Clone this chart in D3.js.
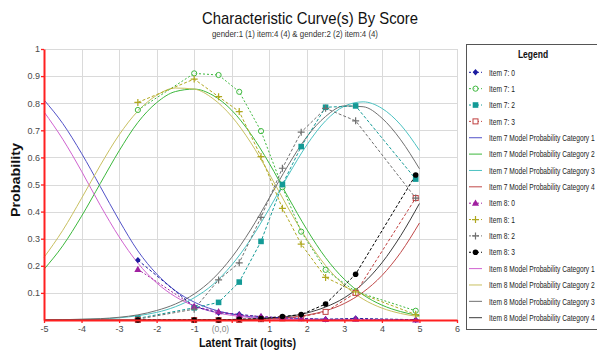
<!DOCTYPE html>
<html>
<head>
<meta charset="utf-8">
<script src="https://cdn.jsdelivr.net/npm/d3@7"></script>
<style>
	body{margin:0;background:#fff;}
	text{font-family:"Liberation Sans",Arial,sans-serif;}
</style>
</head>
<body>
<div id="chart"></div>
<script>
var xTicks=[-5,-4,-3,-2,-1,0,1,2,3,4,5,6];
var yTicks=[0.1,0.2,0.3,0.4,0.5,0.6,0.7,0.8,0.9,1];

//model curves, read every half logit
var modelX=[-5,-4.5,-4,-3.5,-3,-2.5,-2,-1.5,-1,-0.5,0,0.5,1,1.5,2,2.5,3,3.5,4,4.5,5];
var item7Cat1=[0.812,0.725,0.615,0.492,0.368,0.255,0.170,0.108,0.066,0.039,0.022,0.012,0.006,0.003,0.001,0.001,0,0,0,0,0];
var item7Cat2=[0.187,0.274,0.383,0.504,0.624,0.729,0.802,0.843,0.852,0.829,0.774,0.688,0.578,0.454,0.334,0.230,0.150,0.093,0.055,0.031,0.016];
var item7Cat3=[0,0.001,0.002,0.004,0.008,0.016,0.028,0.049,0.082,0.131,0.203,0.297,0.411,0.533,0.646,0.735,0.789,0.805,0.781,0.720,0.626];
var item7Cat4=[0,0,0,0,0,0,0,0,0,0,0.001,0.002,0.004,0.009,0.018,0.034,0.061,0.103,0.164,0.249,0.358];
var item8Cat1=[0.768,0.667,0.549,0.423,0.307,0.210,0.137,0.086,0.052,0.030,0.017,0.009,0.004,0.002,0.001,0,0,0,0,0,0];
var item8Cat2=[0.231,0.331,0.449,0.571,0.683,0.771,0.829,0.856,0.852,0.817,0.751,0.656,0.539,0.414,0.298,0.201,0.128,0.077,0.044,0.024,0.012];
var item8Cat3=[0,0.001,0.003,0.005,0.010,0.019,0.035,0.059,0.096,0.152,0.231,0.332,0.450,0.570,0.676,0.751,0.790,0.787,0.745,0.665,0.558];
var item8Cat4=[0,0,0,0,0,0,0,0,0,0.001,0.001,0.003,0.006,0.013,0.026,0.048,0.082,0.135,0.211,0.311,0.430];

//observed proportions by score group
var obsX=[-2.5,-1,-0.35,0.2,0.78,1.35,1.85,2.5,3.3,4.9];
var item7Obs0=[0.221,0.049,0.027,0.021,0.012,0.008,0.006,0.003,0.006,0.001];
var item7Obs1=[0.775,0.910,0.904,0.842,0.697,0.490,0.326,0.185,0.105,0.034];
var item7Obs2=[0.006,0.045,0.065,0.140,0.290,0.500,0.640,0.785,0.790,0.520];
var item7Obs3=[0,0,0,0,0.003,0.006,0.012,0.030,0.100,0.450];
var item8Obs0=[0.187,0.050,0.031,0.018,0.013,0.008,0.005,0.002,0.003,0];
var item8Obs1=[0.803,0.889,0.824,0.769,0.603,0.412,0.280,0.157,0.104,0.020];
var item8Obs2=[0.003,0.040,0.148,0.211,0.379,0.560,0.693,0.781,0.735,0.450];
var item8Obs3=[0,0,0,0.003,0.005,0.013,0.020,0.059,0.169,0.535];

var observed=[
	{name:"Item 7: 0",values:item7Obs0,color:"#1c1ca0",marker:"diamond",dash:"3,2"},
	{name:"Item 7: 1",values:item7Obs1,color:"#3fb83f",marker:"circleOpen",dash:"2,2"},
	{name:"Item 7: 2",values:item7Obs2,color:"#139a96",marker:"square",dash:"3,2"},
	{name:"Item 7: 3",values:item7Obs3,color:"#c04040",marker:"squareOpen",dash:"3,2"},
	{name:"Item 8: 0",values:item8Obs0,color:"#a020a0",marker:"triangle",dash:"2,2"},
	{name:"Item 8: 1",values:item8Obs1,color:"#b0a820",marker:"plus",dash:"3,2"},
	{name:"Item 8: 2",values:item8Obs2,color:"#707070",marker:"plus",dash:"3,2"},
	{name:"Item 8: 3",values:item8Obs3,color:"#000000",marker:"circle",dash:"3,2"}
];
var model=[
	{name:"Item 7 Model Probability Category 1",values:item7Cat1,color:"#5252c8"},
	{name:"Item 7 Model Probability Category 2",values:item7Cat2,color:"#3cb83c"},
	{name:"Item 7 Model Probability Category 3",values:item7Cat3,color:"#4cc2c2"},
	{name:"Item 7 Model Probability Category 4",values:item7Cat4,color:"#c04848"},
	{name:"Item 8 Model Probability Category 1",values:item8Cat1,color:"#d062d0"},
	{name:"Item 8 Model Probability Category 2",values:item8Cat2,color:"#c8c060"},
	{name:"Item 8 Model Probability Category 3",values:item8Cat3,color:"#707070"},
	{name:"Item 8 Model Probability Category 4",values:item8Cat4,color:"#3c3c3c"}
];
var legendItems=observed.slice(0,4).concat(model.slice(0,4),observed.slice(4),model.slice(4));

var width=597,height=353;
var svg=d3.select("#chart").append("svg").attr("width",width).attr("height",height);
svg.append("rect").attr("width",width).attr("height",height).attr("fill","#fff");

var x=d3.scaleLinear().domain([-5,6]).range([44,457]);
var y=d3.scaleLinear().domain([0,1]).range([320,49]);

function squeezedText(parent,px,py,str,sx,anchor)
{
	return parent.append("text")
		.attr("transform","translate("+px+","+py+") scale("+sx+",1)")
		.attr("text-anchor",anchor||"start")
		.text(str);
}

function drawMarker(g,type,color,px,py)
{
	if(type==="diamond")
		g.append("path").attr("d","M"+px+","+(py-3.2)+"L"+(px+2.8)+","+py+"L"+px+","+(py+3.2)+"L"+(px-2.8)+","+py+"Z").attr("fill",color);
	else if(type==="circle")
		g.append("circle").attr("cx",px).attr("cy",py).attr("r",2.8).attr("fill",color);
	else if(type==="circleOpen")
		g.append("circle").attr("cx",px).attr("cy",py).attr("r",2.6).attr("fill","#fff").attr("fill-opacity",0.6).attr("stroke",color).attr("stroke-width",1);
	else if(type==="square")
		g.append("rect").attr("x",px-2.8).attr("y",py-2.8).attr("width",5.6).attr("height",5.6).attr("fill",color);
	else if(type==="squareOpen")
		g.append("rect").attr("x",px-2.5).attr("y",py-2.5).attr("width",5).attr("height",5).attr("fill","#fff").attr("stroke",color).attr("stroke-width",1);
	else if(type==="triangle")
		g.append("path").attr("d",d3.symbol(d3.symbolTriangle,22)()).attr("transform","translate("+px+","+(py+0.5)+")").attr("fill",color);
	else if(type==="plus")
		g.append("path").attr("d","M"+(px-3.5)+","+py+"H"+(px+3.5)+"M"+px+","+(py-3.5)+"V"+(py+3.5)).attr("stroke",color).attr("stroke-width",1.2);
}

//grid
var grid=svg.append("g").attr("stroke","#dadada").attr("stroke-width",1);
grid.selectAll("line.h").data(yTicks).enter().append("line")
	.attr("x1",x(-5)).attr("x2",x(6)).attr("y1",function(d){return Math.round(y(d))+0.5;}).attr("y2",function(d){return Math.round(y(d))+0.5;});
grid.selectAll("line.v").data(xTicks.slice(1)).enter().append("line")
	.attr("y1",y(1)).attr("y2",y(0)).attr("x1",function(d){return Math.round(x(d))+0.5;}).attr("x2",function(d){return Math.round(x(d))+0.5;});

var modelLine=d3.line().x(function(d){return x(d[0]);}).y(function(d){return y(d[1]);}).curve(d3.curveMonotoneX);
var obsLine=d3.line().x(function(d){return x(d[0]);}).y(function(d){return y(d[1]);});

var plot=svg.append("g");
model.forEach(function(s){
	plot.append("path").attr("d",modelLine(d3.zip(modelX,s.values)))
		.attr("fill","none").attr("stroke",s.color).attr("stroke-width",1);
});
observed.forEach(function(s){
	plot.append("path").attr("d",obsLine(d3.zip(obsX,s.values)))
		.attr("fill","none").attr("stroke",s.color).attr("stroke-width",1).attr("stroke-dasharray",s.dash);
});
observed.forEach(function(s){
	var g=plot.append("g");
	s.values.forEach(function(v,i){
		drawMarker(g,s.marker,s.color,x(obsX[i]),y(v));
	});
});

//axes
var yAxis=svg.append("g").attr("transform","translate("+x(-5)+",0)")
	.call(d3.axisLeft(y).tickValues(yTicks).tickSize(3).tickSizeOuter(0).tickFormat(d3.format("")));
var xAxis=svg.append("g").attr("transform","translate(0,"+y(0)+")")
	.call(d3.axisBottom(x).tickValues(xTicks).tickSize(3).tickSizeOuter(0).tickFormat(function(d){return d===0?"":d;}));
[yAxis,xAxis].forEach(function(a){
	a.select(".domain").attr("stroke","#ff2020").attr("stroke-width",2);
	a.selectAll(".tick line").attr("stroke","#ff2020").attr("stroke-width",1.3);
	a.selectAll(".tick text").attr("fill","#4a4a4a").attr("font-size","9px").attr("font-family","'Liberation Sans',Arial,sans-serif");
});
yAxis.selectAll(".tick text").attr("x",-4);
xAxis.selectAll(".tick text").attr("y",6);
svg.append("text").attr("x",x(-0.3)).attr("y",332).attr("text-anchor","middle")
	.attr("font-size","8.5px").attr("fill","#8a8a8a").text("(0,0)");

//titles
svg.append("text").attr("x",310).attr("y",24).attr("text-anchor","middle").attr("font-size","17px")
	.attr("fill","#111").attr("textLength",216).attr("lengthAdjust","spacingAndGlyphs").text("Characteristic Curve(s) By Score");
svg.append("text").attr("x",295).attr("y",36.5).attr("text-anchor","middle").attr("font-size","9px")
	.attr("fill","#333").attr("textLength",166).attr("lengthAdjust","spacingAndGlyphs").text("gender:1 (1) item:4 (4) & gender:2 (2) item:4 (4)");
svg.append("text").attr("x",247.5).attr("y",347).attr("text-anchor","middle").attr("font-size","13px").attr("font-weight","bold")
	.attr("fill","#111").attr("textLength",97).attr("lengthAdjust","spacingAndGlyphs").text("Latent Trait (logits)");
svg.append("text").attr("transform","translate(20,180) rotate(-90)").attr("text-anchor","middle").attr("font-size","13px").attr("font-weight","bold")
	.attr("fill","#111").attr("textLength",74).attr("lengthAdjust","spacingAndGlyphs").text("Probability");

//legend
var legend=svg.append("g");
legend.append("rect").attr("x",466.5).attr("y",44.5).attr("width",140).attr("height",285)
	.attr("fill","#fff").attr("stroke","#555").attr("stroke-width",1);
squeezedText(legend,533,58,"Legend",0.85,"middle").attr("font-size","10px").attr("font-weight","bold").attr("fill","#111");
legendItems.forEach(function(s,i){
	var cy=72.3+i*16.36;
	var g=legend.append("g");
	var line=g.append("line").attr("x1",469).attr("x2",482).attr("y1",cy).attr("y2",cy)
		.attr("stroke",s.color).attr("stroke-width",1);
	if(s.marker)
	{
		line.attr("stroke-dasharray","2,2");
		drawMarker(g,s.marker,s.color,475.5,cy);
	}
	squeezedText(g,489,cy+3.2,s.name,0.74).attr("font-size","9px").attr("fill","#222");
});
</script>
</body>
</html>
